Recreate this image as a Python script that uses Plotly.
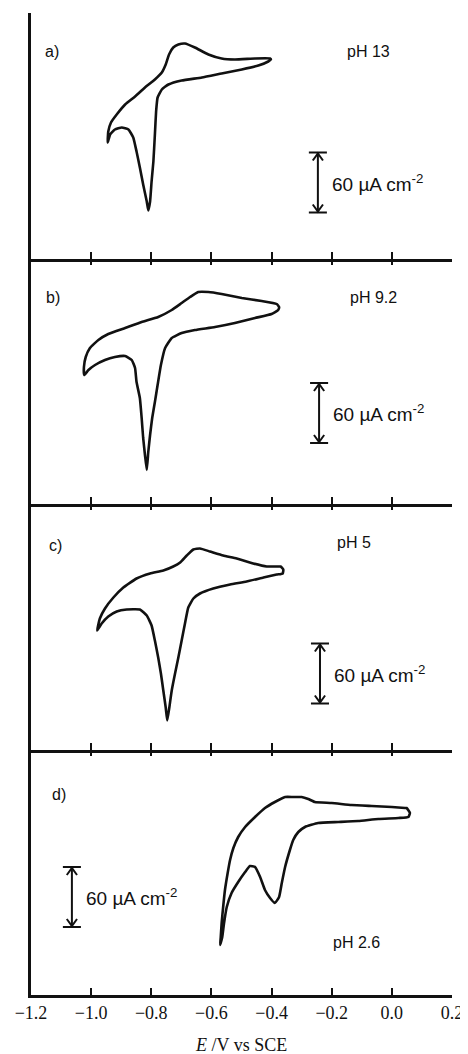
import plotly.graph_objects as go
from plotly.subplots import make_subplots

# cyclic voltammograms: potential E (V vs SCE) and current density j (uA cm-2,
# measured up from each panel's baseline)
E_a = [-0.402, -0.405, -0.455, -0.522, -0.566, -0.610, -0.655, -0.688, -0.710, -0.727,
       -0.741, -0.752, -0.765, -0.788, -0.821, -0.854, -0.887, -0.915, -0.934, -0.943,
       -0.945, -0.937, -0.921, -0.898, -0.876, -0.860, -0.849, -0.838, -0.827, -0.815,
       -0.810, -0.804, -0.799, -0.793, -0.788, -0.784, -0.779, -0.765, -0.743, -0.699,
       -0.632, -0.566, -0.499, -0.444, -0.411]
j_a = [199, 200, 200, 199, 200, 204, 211, 215, 214, 211,
       204, 194, 186, 179, 171, 162, 154, 144, 136, 127,
       116, 124, 129, 131, 129, 121, 107, 91, 74, 57,
       48, 57, 77, 97, 124, 147, 161, 169, 174, 178,
       181, 185, 189, 193, 197]

E_b = [-0.375, -0.383, -0.433, -0.499, -0.566, -0.610, -0.644, -0.671, -0.699, -0.732,
       -0.777, -0.832, -0.887, -0.943, -0.976, -1.004, -1.018, -1.024, -1.023, -1.009,
       -0.987, -0.954, -0.921, -0.887, -0.865, -0.854, -0.849, -0.838, -0.832, -0.827,
       -0.821, -0.815, -0.810, -0.804, -0.797, -0.788, -0.779, -0.768, -0.754, -0.732,
       -0.699, -0.655, -0.588, -0.522, -0.455, -0.400, -0.378]
j_b = [197, 200, 203, 206, 210, 212, 212, 207, 201, 194,
       187, 182, 176, 170, 164, 156, 147, 137, 129, 134,
       139, 144, 147, 148, 144, 136, 122, 106, 86, 66,
       49, 34, 52, 69, 86, 102, 119, 139, 156, 166,
       171, 174, 177, 181, 186, 190, 194]

E_c = [-0.361, -0.370, -0.383, -0.416, -0.461, -0.516, -0.561, -0.605, -0.638, -0.660,
       -0.682, -0.704, -0.727, -0.760, -0.804, -0.849, -0.893, -0.926, -0.954, -0.971,
       -0.980, -0.965, -0.943, -0.915, -0.882, -0.838, -0.815, -0.799, -0.788, -0.777,
       -0.768, -0.760, -0.752, -0.747, -0.740, -0.732, -0.721, -0.710, -0.699, -0.688,
       -0.677, -0.660, -0.638, -0.594, -0.538, -0.483, -0.427, -0.383, -0.363]
j_c = [180, 183, 183, 183, 186, 191, 194, 198, 201, 200,
       194, 187, 183, 179, 176, 171, 162, 152, 141, 131,
       119, 126, 133, 138, 140, 140, 134, 124, 109, 92,
       76, 59, 42, 29, 42, 59, 76, 92, 109, 126,
       142, 151, 156, 161, 165, 168, 172, 175, 176]

E_d = [0.060, 0.049, 0.044, 0.000, -0.067, -0.134, -0.200, -0.256, -0.278, -0.300,
       -0.328, -0.355, -0.389, -0.422, -0.455, -0.488, -0.511, -0.527, -0.538, -0.546,
       -0.555, -0.561, -0.566, -0.569, -0.571, -0.564, -0.558, -0.549, -0.533, -0.511,
       -0.488, -0.472, -0.455, -0.438, -0.422, -0.405, -0.389, -0.375, -0.366, -0.355,
       -0.339, -0.328, -0.311, -0.289, -0.245, -0.178, -0.112, -0.045, 0.022, 0.055]
j_d = [182, 187, 187, 188, 189, 190, 192, 193, 196, 198,
       198, 198, 193, 187, 178, 168, 158, 147, 135, 122,
       105, 88, 72, 58, 50, 58, 72, 88, 102, 113,
       123, 129, 128, 118, 105, 97, 92, 98, 112, 128,
       145, 155, 163, 168, 172, 173, 174, 176, 177, 178]

PANEL_LABELS = ['a)', 'b)', 'c)', 'd)']
PH_LABELS = ['pH 13', 'pH 9.2', 'pH 5', 'pH 2.6']
SCALE_BAR = 60  # uA cm-2
TICKS = [-1.2, -1.0, -0.8, -0.6, -0.4, -0.2, 0.0, 0.2]

# placement of the text and scale bar in each panel (E, j)
LABEL_POS = [(-1.130, 207), (-1.127, 207), (-1.120, 204), (-1.107, 201)]
PH_POS = [(-0.156, 207), (-0.146, 207), (-0.189, 207), (-0.202, 53)]
BAR_POS = [(-0.246, 46), (-0.242, 61), (-0.239, 46), (-1.064, 68)]

SANS = 'Liberation Sans, Arial, sans-serif'
SERIF = 'Liberation Serif, Times New Roman, serif'
INK = '#111111'
Y_SPAN = 245.5
AX_W = 2.5

curves = [(E_a, j_a), (E_b, j_b), (E_c, j_c), (E_d, j_d)]

fig = make_subplots(rows=4, cols=1, vertical_spacing=0)

for i, (E, j) in enumerate(curves):
    row = i + 1
    fig.add_trace(go.Scatter(
        x=E + E[:1], y=j + j[:1], mode='lines',
        line=dict(color=INK, width=2.6, shape='spline', smoothing=0.4),
        showlegend=False, hoverinfo='skip',
    ), row=row, col=1)

    # labels
    lx, ly = LABEL_POS[i]
    fig.add_annotation(x=lx, y=ly, text=PANEL_LABELS[i], showarrow=False,
                       xanchor='center', yanchor='middle',
                       font=dict(family=SANS, size=16, color=INK), row=row, col=1)
    px, py = PH_POS[i]
    fig.add_annotation(x=px, y=py, text=PH_LABELS[i], showarrow=False,
                       xanchor='left', yanchor='middle',
                       font=dict(family=SANS, size=16, color=INK), row=row, col=1)

    # scale bar with caps and arrow heads
    bx, by = BAR_POS[i]
    top = by + SCALE_BAR
    cap, hw, hh = 0.03, 0.017, 8
    xr = 'x' if row == 1 else f'x{row}'
    yr = 'y' if row == 1 else f'y{row}'
    line = dict(color=INK, width=2)
    fig.add_shape(type='line', x0=bx, x1=bx, y0=by, y1=top, xref=xr, yref=yr, line=line)
    fig.add_shape(type='line', x0=bx - cap, x1=bx + cap, y0=top, y1=top, xref=xr, yref=yr, line=line)
    fig.add_shape(type='line', x0=bx - cap, x1=bx + cap, y0=by, y1=by, xref=xr, yref=yr, line=line)
    fig.add_shape(type='path', xref=xr, yref=yr, line=line,
                  path=f'M {bx - hw},{top - hh} L {bx},{top - 1} L {bx + hw},{top - hh}')
    fig.add_shape(type='path', xref=xr, yref=yr, line=line,
                  path=f'M {bx - hw},{by + hh} L {bx},{by + 1} L {bx + hw},{by + hh}')
    fig.add_annotation(x=bx, y=by + SCALE_BAR / 2, xshift=12,
                       text='60 \u00b5A cm<sup>-2</sup>', showarrow=False,
                       xanchor='left', yanchor='middle',
                       font=dict(family=SANS, size=19, color=INK), row=row, col=1)

    fig.update_xaxes(
        range=[-1.2, 0.2], tickmode='array', tickvals=TICKS,
        ticktext=[f'{t:.1f}'.replace('-', '\u2212') for t in TICKS],
        showticklabels=(row == 4),
        ticks='inside', ticklen=7, tickwidth=2, tickcolor=INK,
        showline=True, linewidth=AX_W, linecolor=INK, mirror=False,
        showgrid=False, zeroline=False,
        tickfont=dict(family=SERIF, size=18, color=INK),
        row=row, col=1,
    )
    fig.update_yaxes(
        range=[0, Y_SPAN], showline=True, linewidth=AX_W, linecolor=INK,
        ticks='', showticklabels=False, showgrid=False, zeroline=False,
        row=row, col=1,
    )

# top-side tick marks for panels b-d (the divider line itself belongs to the panel above)
for k, row in enumerate([2, 3, 4]):
    name = f'xaxis{5 + k}'
    fig.update_layout(**{name: dict(
        overlaying=f'x{row}', anchor=f'y{row}', side='top',
        range=[-1.2, 0.2], tickmode='array', tickvals=TICKS,
        ticks='inside', ticklen=6, tickwidth=2, tickcolor=INK,
        showline=False, showticklabels=False, showgrid=False, zeroline=False,
    )})
    fig.add_trace(go.Scatter(x=[-1.2], y=[0], xaxis=f'x{5 + k}', yaxis=f'y{row}',
                             mode='markers', marker=dict(opacity=0),
                             showlegend=False, hoverinfo='skip'))

fig.add_annotation(xref='paper', yref='paper', x=0.499, y=0, yshift=-50,
                   text='<i>E</i> /V vs SCE', showarrow=False,
                   xanchor='center', yanchor='middle',
                   font=dict(family=SERIF, size=18, color=INK))

# the page body adds an 8px offset, so the figure is 8px smaller each way
fig.update_layout(
    width=460, height=1046,
    margin=dict(l=23, r=16, t=5, b=59),
    paper_bgcolor='white', plot_bgcolor='white',
    showlegend=False,
)

fig.write_html('out.html')
